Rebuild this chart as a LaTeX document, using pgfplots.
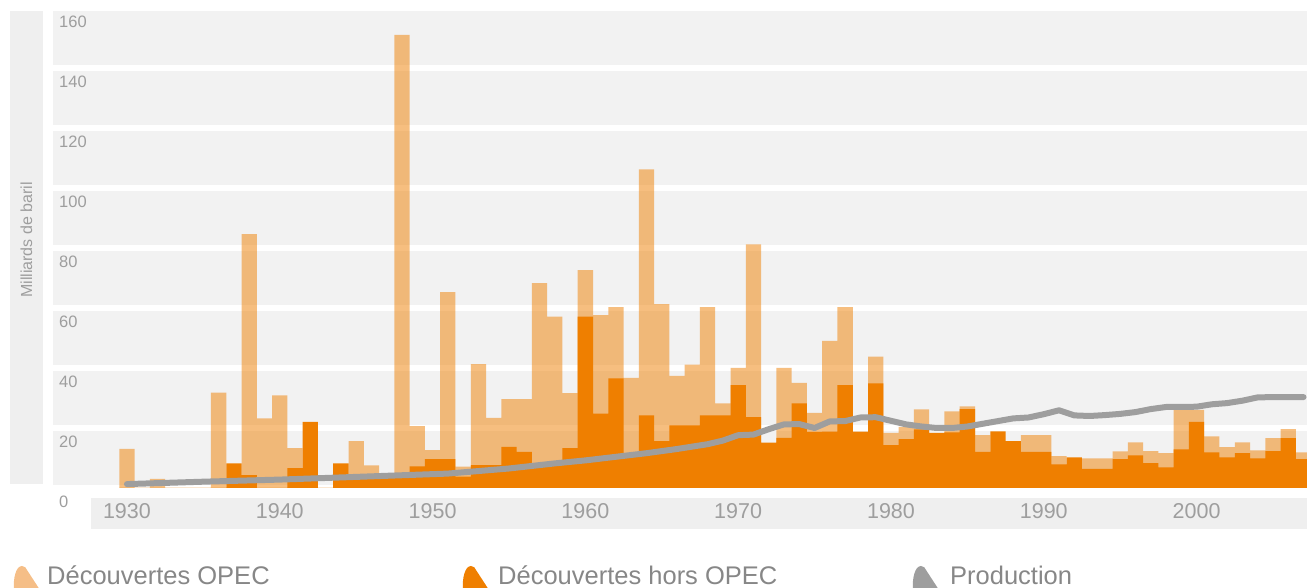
\documentclass[border=0pt]{standalone}
\usepackage{pgfplots}
\usepackage{pgfplotstable}
\pgfplotsset{compat=1.18}
\usepackage{fontspec}
\setmainfont{Liberation Sans}

\definecolor{orangeFort}{RGB}{239,127,0}
\definecolor{orangeClair}{RGB}{245,190,135}
\definecolor{prodGris}{RGB}{158,158,158}
\definecolor{fondGris}{RGB}{242,242,242}
\definecolor{bandeGris}{RGB}{239,239,239}
\definecolor{texteGris}{RGB}{158,158,158}
\definecolor{legendeGris}{RGB}{135,135,135}

% decouvertes annuelles (milliards de barils)
\pgfplotstableread{
annee opep horsopep
1930 13.0 0
1931 0 0
1932 3.0 0
1933 0 0
1934 0 0
1935 0 0
1936 31.8 0
1937 0 8.2
1938 84.6 4.3
1939 23.2 0
1940 30.9 0
1941 13.3 6.6
1942 0 22.0
1943 0 0
1944 0 8.2
1945 15.6 3.5
1946 7.5 3.5
1947 0 3.5
1948 151.0 4.8
1949 20.6 7.2
1950 12.6 9.6
1951 65.3 9.6
1952 7.1 3.8
1953 41.3 7.6
1954 23.4 7.6
1955 29.6 13.7
1956 29.6 12.0
1957 68.3 7.5
1958 57.1 7.5
1959 31.6 13.3
1960 72.6 57.1
1961 57.6 24.8
1962 60.3 36.5
1963 36.7 11.0
1964 106.2 24.2
1965 61.3 15.6
1966 37.4 20.9
1967 41.1 20.9
1968 60.3 24.2
1969 28.2 24.2
1970 40.0 34.3
1971 81.2 23.6
1972 0 15.1
1973 40.0 16.7
1974 35.0 28.2
1975 25.0 18.7
1976 49.0 18.8
1977 60.3 34.3
1978 0 18.8
1979 43.8 34.9
1980 18.4 14.3
1981 20.4 16.3
1982 26.2 19.5
1983 0 18.4
1984 25.5 18.5
1985 27.2 26.3
1986 17.6 12.0
1987 0 18.9
1988 0 15.6
1989 17.6 12.0
1990 17.6 12.0
1991 10.6 7.9
1992 0 10.2
1993 9.9 6.4
1994 9.9 6.4
1995 12.2 9.6
1996 15.2 10.9
1997 12.3 8.3
1998 11.6 6.9
1999 26.0 12.9
2000 26.0 22.0
2001 17.2 11.9
2002 13.6 10.2
2003 15.2 11.6
2004 12.5 9.9
2005 16.6 12.3
2006 19.6 16.6
2007 11.9 9.6
}\decouvertes

% production mondiale
\pgfplotstableread{
annee prod
1930 1.3
1935 2.1
1940 2.8
1945 3.7
1951 4.8
1955 6.5
1958 8.2
1960 9.2
1964 11.6
1966 13.0
1968 14.6
1969 15.8
1970 17.6
1971 17.8
1972 19.6
1973 21.2
1974 21.3
1975 20.0
1976 22.2
1977 22.3
1978 23.5
1979 23.6
1980 22.4
1981 21.2
1982 20.5
1983 20.0
1984 20.0
1985 20.5
1986 21.4
1987 22.3
1988 23.2
1989 23.5
1990 24.6
1991 25.9
1992 24.2
1993 24.0
1994 24.3
1995 24.7
1996 25.3
1997 26.3
1998 27.0
1999 27.0
2000 27.1
2001 27.9
2002 28.3
2003 29.1
2004 30.2
2005 30.3
2006 30.3
2007 30.3
}\production

\newcommand{\feuille}[2]{%
  \fill[#2] (#1,-2) .. controls (#1-1,10) and (#1+2,22) .. (#1+8,22)
    .. controls (#1+11,22) and (#1+12,20) .. (#1+13,18) -- (#1+26,-2) -- cycle;}

\begin{document}
\begin{tikzpicture}[x=1pt,y=1pt]
\useasboundingbox (0,0) rectangle (1307,588);
% bandeau du titre d'axe
\fill[bandeGris] (10,104) rectangle (43,577);
\node[rotate=90, text=texteGris, inner sep=0pt, font=\fontsize{16}{19}\selectfont] at (26.5,348) {Milliards de baril};
% bandeau des annees
\fill[bandeGris] (91,59) rectangle (1307,90);

\begin{axis}[
  at={(53pt,100pt)}, anchor=south west,
  scale only axis, width=1254pt, height=480pt,
  xmin=1925.16, xmax=2007.23, ymin=0, ymax=160,
  axis line style={draw=none},
  major tick length=0pt,
  axis background/.style={fill=fondGris},
  ymajorgrids,
  major grid style={white, line width=5.5pt},
  ytick={0,20,...,160},
  xtick={1930,1940,...,2000},
  /pgf/number format/assume math mode=true,
  /pgf/number format/set thousands separator={},
  yticklabel style={anchor=north west, inner sep=0pt, xshift=6pt, yshift=-7.5pt,
    text=texteGris, font=\fontsize{16.5}{19}\selectfont},
  xticklabel style={anchor=center, inner sep=0pt, yshift=-23.3pt,
    text=texteGris, font=\fontsize{21.5}{25}\selectfont},
  clip=true,
]
  \addplot[ybar, bar width=1, bar shift=0pt, fill=orangeFort, fill opacity=0.5, draw=none]
    table[x=annee, y=opep] {\decouvertes};
  \addplot[ybar, bar width=1, bar shift=0pt, fill=orangeFort, draw=none]
    table[x=annee, y=horsopep] {\decouvertes};
  \addplot[prodGris, line width=6pt, line cap=round, line join=round, mark=none]
    table[x=annee, y=prod] {\production};
\end{axis}

% legende
\feuille{14}{orangeClair}
\node[anchor=base west, inner sep=0pt, text=legendeGris, font=\fontsize{25.5}{30}\selectfont] at (47,3) {Découvertes OPEC};
\feuille{463}{orangeFort}
\node[anchor=base west, inner sep=0pt, text=legendeGris, font=\fontsize{25.5}{30}\selectfont] at (498,3) {Découvertes hors OPEC};
\feuille{913}{prodGris}
\node[anchor=base west, inner sep=0pt, text=legendeGris, font=\fontsize{25.5}{30}\selectfont] at (950,3) {Production};
\end{tikzpicture}
\end{document}
